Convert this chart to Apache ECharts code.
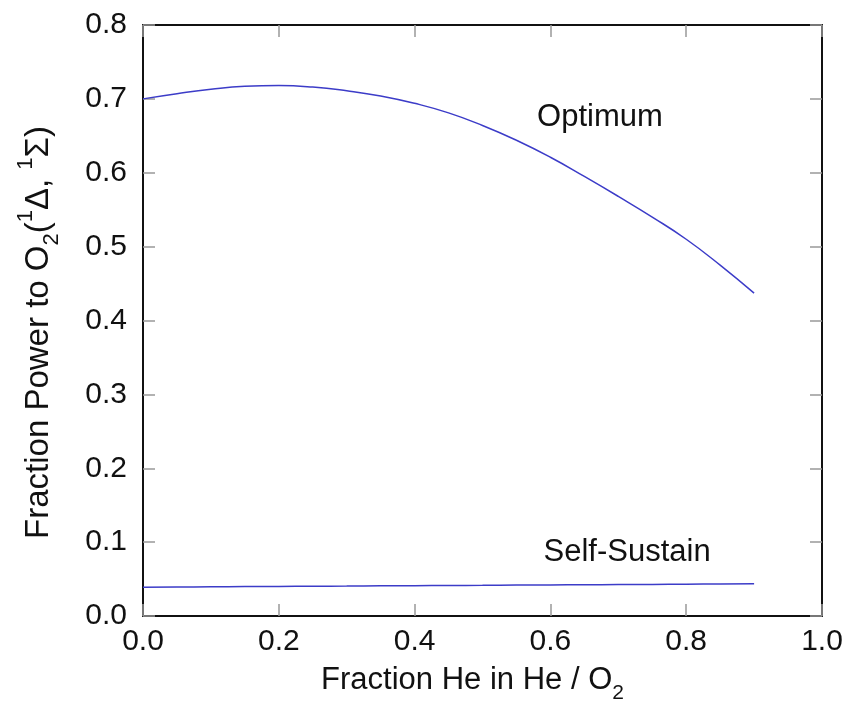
<!DOCTYPE html>
<html>
<head>
<meta charset="utf-8">
<script src="https://cdn.jsdelivr.net/npm/echarts@6/dist/echarts.min.js"></script>
<style>
  html, body { margin: 0; padding: 0; background: #fff; }
  #chart { width: 861px; height: 705px; }
</style>
</head>
<body>
<div id="chart"></div>
<script>
// fraction of He in the He / O2 mix
const heFraction = [0, 0.05, 0.1, 0.15, 0.2, 0.25, 0.3, 0.35, 0.4, 0.45,
  0.5, 0.55, 0.6, 0.65, 0.7, 0.75, 0.8, 0.85, 0.9];
// fraction of power going to O2(1Delta, 1Sigma)
const optimum = [0.700, 0.707, 0.713, 0.717, 0.718, 0.716, 0.711, 0.704, 0.694, 0.681,
  0.664, 0.644, 0.621, 0.595, 0.568, 0.540, 0.510, 0.475, 0.437];
const selfSustain = [0.039, 0.0393, 0.0395, 0.0398, 0.040, 0.0403, 0.0405, 0.0408, 0.041, 0.0413,
  0.0415, 0.0418, 0.042, 0.0423, 0.0425, 0.0428, 0.043, 0.0433, 0.0435];
// curve labels, placed in data units
const curveNotes = [
  { text: 'Optimum', at: [0.673, 0.675] },
  { text: 'Self-Sustain', at: [0.713, 0.0866] }
];

const font = 'Liberation Sans, Arial, sans-serif';
const blue = '#3c3cc8';
const tickStyle = { show: true, inside: true, length: 12, lineStyle: { color: '#999', width: 1.5 } };
const lineStyle = { show: true, onZero: false, lineStyle: { color: '#111', width: 2 } };

const pairs = (ys) => heFraction.map((x, i) => [x, ys[i]]);

const chart = echarts.init(document.getElementById('chart'));

const option = {
  backgroundColor: '#fff',
  animation: false,
  grid: { left: 143, right: 39, top: 25, bottom: 89, containLabel: false, outerBoundsMode: 'none' },
  xAxis: [{
    type: 'value', min: 0, max: 1, interval: 0.2,
    position: 'bottom',
    axisLine: lineStyle,
    axisTick: tickStyle,
    splitLine: { show: false },
    axisLabel: {
      color: '#111', fontFamily: font, fontSize: 30, margin: 11,
      formatter: v => v.toFixed(1)
    },
    name: '{m|Fraction He in He / O}{s|2}{g|}',
    nameLocation: 'middle', nameGap: 40,
    nameTextStyle: {
      rich: {
        m: { fontFamily: font, fontSize: 31, color: '#111', lineHeight: 48, verticalAlign: 'middle' },
        s: { fontFamily: font, fontSize: 21, color: '#111', lineHeight: 48, verticalAlign: 'bottom' },
        g: { width: 20 }
      }
    }
  }, {
    type: 'value', min: 0, max: 1, interval: 0.2,
    position: 'top',
    axisLine: lineStyle,
    axisTick: tickStyle,
    axisLabel: { show: false },
    splitLine: { show: false }
  }],
  yAxis: [{
    type: 'value', min: 0, max: 0.8, interval: 0.1,
    position: 'left',
    axisLine: lineStyle,
    axisTick: tickStyle,
    splitLine: { show: false },
    axisLabel: {
      color: '#111', fontFamily: font, fontSize: 30, margin: 16,
      formatter: v => v.toFixed(1)
    },
    name: '{m|Fraction Power to O}{s|2}{m|(}{p|1}{m|Δ, }{p|1}{m|Σ)}{g|}',
    nameLocation: 'middle', nameGap: 80, nameRotate: 90,
    nameTextStyle: {
      rich: {
        m: { fontFamily: font, fontSize: 33, color: '#111', lineHeight: 48, verticalAlign: 'middle' },
        s: { fontFamily: font, fontSize: 22, color: '#111', lineHeight: 48, verticalAlign: 'bottom' },
        p: { fontFamily: font, fontSize: 22, color: '#111', lineHeight: 48, verticalAlign: 'top' },
        g: { width: 24 }
      }
    }
  }, {
    type: 'value', min: 0, max: 0.8, interval: 0.1,
    position: 'right',
    axisLine: lineStyle,
    axisTick: tickStyle,
    axisLabel: { show: false },
    splitLine: { show: false }
  }],
  series: [{
    name: 'Optimum', type: 'line', smooth: true, showSymbol: false,
    data: pairs(optimum),
    lineStyle: { color: blue, width: 1.5 }
  }, {
    name: 'Self-Sustain', type: 'line', smooth: true, showSymbol: false,
    data: pairs(selfSustain),
    lineStyle: { color: blue, width: 1.5 }
  }]
};

chart.setOption(option);

// curve notes go where the axes put their data points
chart.setOption({
  graphic: curveNotes.map(n => {
    const p = chart.convertToPixel({ xAxisIndex: 0, yAxisIndex: 0 }, n.at);
    return {
      type: 'text', x: p[0], y: p[1],
      style: {
        text: n.text, fill: '#111', font: '31px ' + font,
        textAlign: 'center', textVerticalAlign: 'middle'
      }
    };
  })
});
</script>
</body>
</html>
